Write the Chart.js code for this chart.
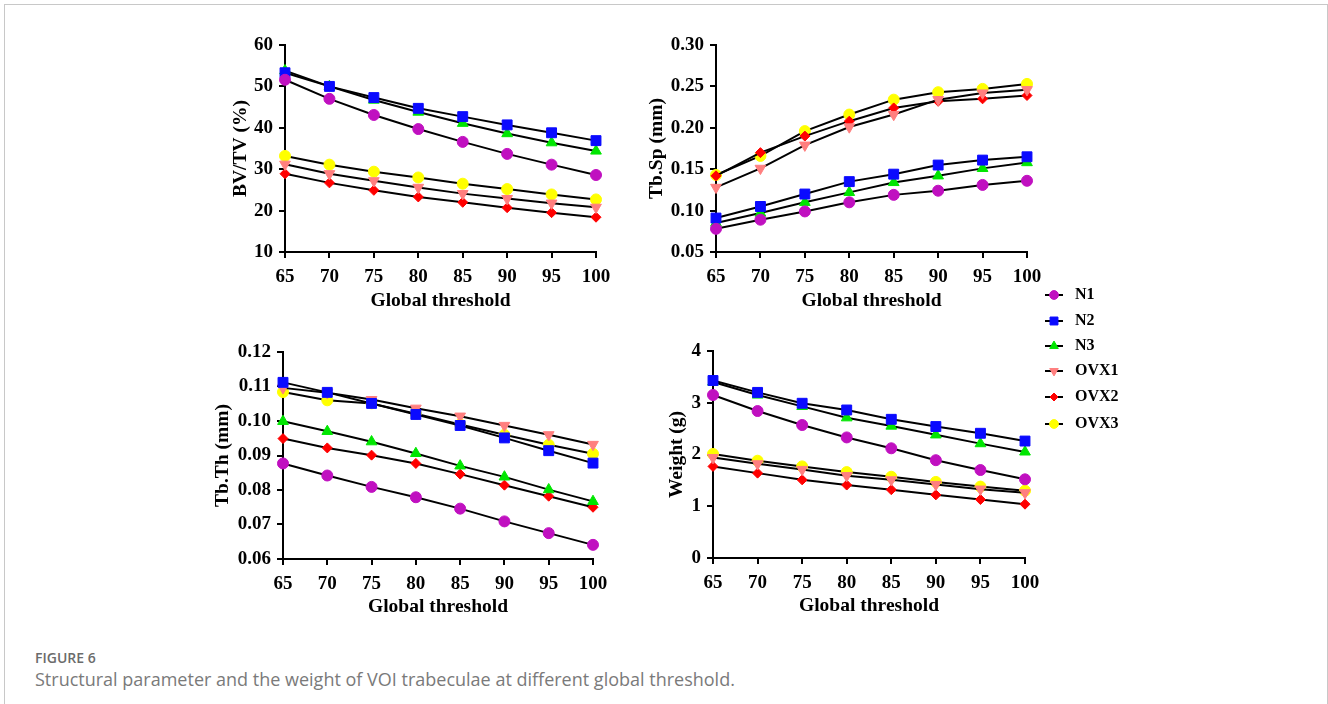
<!DOCTYPE html>
<html>
<head>
<meta charset="utf-8">
<script src="https://cdn.jsdelivr.net/npm/chart.js@4.4.1/dist/chart.umd.min.js"></script>
<style>
  body { margin: 0; background: #fff; }
  #page { position: relative; width: 1328px; height: 704px; overflow: hidden; }
  #frame { position: absolute; left: 4px; top: 4px; width: 1322px; height: 740px; border: 1px solid #c8c8c8; }
  canvas.plot { position: absolute; }
  .leg { position: absolute; left: 1043px; height: 16px; font: bold 16px 'Liberation Serif', 'Times New Roman', serif; color: #000; }
  .leg canvas { position: absolute; left: 0; top: 1px; }
  .leg span { position: absolute; left: 32px; top: -2px; white-space: nowrap; }
  #figno { position: absolute; left: 35px; top: 648px; font: 600 14px 'Open Sans', sans-serif; color: #6b6b6b; }
  #caption { position: absolute; left: 35px; top: 667px; font: 18px 'Open Sans', sans-serif; color: #7a7a7a; white-space: nowrap; }
</style>
</head>
<body>
<div id="page">
  <div id="frame"></div>
  <canvas class="plot" id="c1"></canvas>
  <canvas class="plot" id="c2"></canvas>
  <canvas class="plot" id="c3"></canvas>
  <canvas class="plot" id="c4"></canvas>
  <div id="legend"></div>
  <div id="figno">FIGURE 6</div>
  <div id="caption">Structural parameter and the weight of VOI trabeculae at different global threshold.</div>
</div>
<script>
// x categories
var thresholds = [65, 70, 75, 80, 85, 90, 95, 100];
var groups = ["N1", "N2", "N3", "OVX1", "OVX2", "OVX3"];

// BV/TV (%)
var bvtvN1   = [51.6, 47.0, 43.1, 39.7, 36.6, 33.7, 31.1, 28.6];
var bvtvN2   = [53.3, 50.0, 47.3, 44.7, 42.7, 40.7, 38.8, 36.9];
var bvtvN3   = [53.8, 50.0, 46.7, 43.8, 41.1, 38.6, 36.4, 34.4];
var bvtvOVX1 = [31.2, 28.9, 27.2, 25.6, 24.1, 22.9, 21.8, 20.8];
var bvtvOVX2 = [28.9, 26.7, 24.9, 23.3, 22.0, 20.7, 19.5, 18.4];
var bvtvOVX3 = [33.2, 31.1, 29.4, 28.0, 26.5, 25.2, 23.9, 22.7];

// Tb.Sp (mm)
var tbspN1   = [0.078, 0.089, 0.099, 0.110, 0.119, 0.124, 0.131, 0.136];
var tbspN2   = [0.091, 0.105, 0.120, 0.135, 0.144, 0.155, 0.161, 0.165];
var tbspN3   = [0.085, 0.097, 0.110, 0.122, 0.134, 0.142, 0.151, 0.158];
var tbspOVX1 = [0.128, 0.151, 0.179, 0.201, 0.216, 0.234, 0.242, 0.246];
var tbspOVX2 = [0.142, 0.170, 0.190, 0.208, 0.224, 0.232, 0.235, 0.239];
var tbspOVX3 = [0.143, 0.166, 0.196, 0.216, 0.234, 0.243, 0.247, 0.253];

// Tb.Th (mm)
var tbthN1   = [0.0877, 0.0842, 0.0809, 0.0779, 0.0746, 0.0709, 0.0675, 0.0641];
var tbthN2   = [0.1112, 0.1083, 0.1051, 0.1019, 0.0987, 0.0951, 0.0914, 0.0878];
var tbthN3   = [0.0999, 0.0970, 0.0940, 0.0906, 0.0870, 0.0838, 0.0801, 0.0767];
var tbthOVX1 = [0.1096, 0.1082, 0.1062, 0.1037, 0.1014, 0.0987, 0.0960, 0.0932];
var tbthOVX2 = [0.0949, 0.0922, 0.0901, 0.0877, 0.0846, 0.0814, 0.0782, 0.0750];
var tbthOVX3 = [0.1084, 0.1060, 0.1051, 0.1021, 0.0990, 0.0960, 0.0931, 0.0905];

// Weight (g)
var weightN1   = [3.15, 2.84, 2.57, 2.33, 2.12, 1.89, 1.70, 1.52];
var weightN2   = [3.43, 3.20, 2.99, 2.86, 2.68, 2.54, 2.41, 2.26];
var weightN3   = [3.40, 3.15, 2.93, 2.71, 2.55, 2.38, 2.21, 2.05];
var weightOVX1 = [1.94, 1.82, 1.71, 1.59, 1.51, 1.42, 1.33, 1.26];
var weightOVX2 = [1.77, 1.64, 1.51, 1.41, 1.32, 1.22, 1.13, 1.04];
var weightOVX3 = [2.01, 1.88, 1.77, 1.66, 1.57, 1.47, 1.38, 1.30];

var SERIF = "'Liberation Serif', 'Times New Roman', serif";
var TICK_SIZE = 19;
var TITLE_SIZE = 19.5;
var TOP_PAD = 20;

// marker look for each group, same order as groups
var markers = [
    { color: "#c010c0", style: "circle",   radius: 5.5, rotation: 0 },
    { color: "#0a0aff", style: "rect",     radius: 7,   rotation: 0 },
    { color: "#00e600", style: "triangle", radius: 6.2, rotation: 0 },
    { color: "#ff7f7f", style: "triangle", radius: 6.2, rotation: 180 },
    { color: "#ff0000", style: "rectRot",  radius: 5,   rotation: 0 },
    { color: "#ffff00", style: "circle",   radius: 5.5, rotation: 0 }
];

function makeDatasets(series) {
    return series.map(function (vals, i) {
        var m = markers[i];
        return {
            label: groups[i],
            data: vals,
            borderColor: "#000",
            borderWidth: 2,
            tension: 0,
            fill: false,
            clip: false,
            pointStyle: m.style,
            pointRadius: m.radius,
            pointRotation: m.rotation,
            pointBackgroundColor: m.color,
            pointBorderColor: m.color,
            pointBorderWidth: 1
        };
    });
}

function axisCommon() {
    return {
        grid: { drawOnChartArea: false, drawTicks: true, tickLength: 6, color: "#000", lineWidth: 2 },
        border: { display: true, color: "#000", width: 2 }
    };
}

// area = where the plot box must land on the page, titleX/titleY = centres of axis titles
function plot(id, series, yTitle, yMin, yMax, yStep, dec, area, titleX, titleY) {
    var half = TITLE_SIZE * 1.2 / 2;
    var L = Math.round(titleX - 4 - half);
    var T = area.y0 - TOP_PAD;
    var W = area.x1 + 24 - L;
    var H = Math.round(titleY + 4 + half) - T;
    var cv = document.getElementById(id);
    cv.width = W; cv.height = H;
    cv.style.left = L + "px"; cv.style.top = T + "px";
    var yW = area.x0 - L;
    var xH = T + H - area.y1;

    var tickFont = { family: SERIF, weight: "bold", size: TICK_SIZE };
    var titleFont = { family: SERIF, weight: "bold", size: TITLE_SIZE };

    var xs = axisCommon();
    xs.ticks = { color: "#000", font: tickFont, padding: 8, maxRotation: 0, autoSkip: false };
    xs.title = { display: true, text: "Global threshold", color: "#000", font: titleFont, padding: { top: 4, bottom: 4 } };
    xs.afterFit = function (s) { s.height = xH; };

    var ys = axisCommon();
    ys.min = yMin; ys.max = yMax;
    ys.ticks = { stepSize: yStep, color: "#000", padding: 6, font: tickFont,
        callback: function (v) { return Number(v).toFixed(dec); } };
    ys.title = { display: true, text: yTitle, color: "#000", font: titleFont, padding: { top: 4, bottom: 4 } };
    ys.afterFit = function (s) { s.width = yW; };

    return new Chart(cv, {
        type: "line",
        data: { labels: thresholds, datasets: makeDatasets(series) },
        options: {
            responsive: false,
            animation: false,
            devicePixelRatio: 1,
            layout: { padding: { top: TOP_PAD, right: 24, left: 0, bottom: 0 } },
            plugins: { legend: { display: false }, tooltip: { enabled: false } },
            scales: { x: xs, y: ys }
        }
    });
}

plot("c1", [bvtvN1, bvtvN2, bvtvN3, bvtvOVX1, bvtvOVX2, bvtvOVX3], "BV/TV (%)", 10, 60, 10, 0,
    { x0: 285, x1: 596, y0: 45, y1: 252 }, 241, 301);
plot("c2", [tbspN1, tbspN2, tbspN3, tbspOVX1, tbspOVX2, tbspOVX3], "Tb.Sp (mm)", 0.05, 0.30, 0.05, 2,
    { x0: 716, x1: 1027, y0: 45, y1: 252 }, 657, 301);
plot("c3", [tbthN1, tbthN2, tbthN3, tbthOVX1, tbthOVX2, tbthOVX3], "Tb.Th (mm)", 0.06, 0.12, 0.01, 2,
    { x0: 283, x1: 593, y0: 352, y1: 559 }, 223, 607);
plot("c4", [weightN1, weightN2, weightN3, weightOVX1, weightOVX2, weightOVX3], "Weight (g)", 0, 4, 1, 0,
    { x0: 713, x1: 1025, y0: 351, y1: 558 }, 677, 606);

// legend on the right, markers drawn with Chart.js' own point helper
var legendRows = [295, 321, 346, 371, 397, 424];
var legendBox = document.getElementById("legend");
groups.forEach(function (g, i) {
    var row = document.createElement("div");
    row.className = "leg";
    row.style.top = (legendRows[i] - 8) + "px";
    var c = document.createElement("canvas");
    c.width = 24; c.height = 14;
    var sp = document.createElement("span");
    sp.textContent = g;
    row.appendChild(c); row.appendChild(sp);
    legendBox.appendChild(row);
    var ctx = c.getContext("2d");
    ctx.strokeStyle = "#000"; ctx.lineWidth = 2;
    ctx.beginPath(); ctx.moveTo(2, 7); ctx.lineTo(20, 7); ctx.stroke();
    var m = markers[i];
    ctx.fillStyle = m.color; ctx.strokeStyle = m.color; ctx.lineWidth = 1;
    Chart.helpers.drawPoint(ctx, { pointStyle: m.style, radius: m.radius * 0.8, rotation: m.rotation, borderWidth: 1 }, 11, 7);
});
</script>
</body>
</html>
